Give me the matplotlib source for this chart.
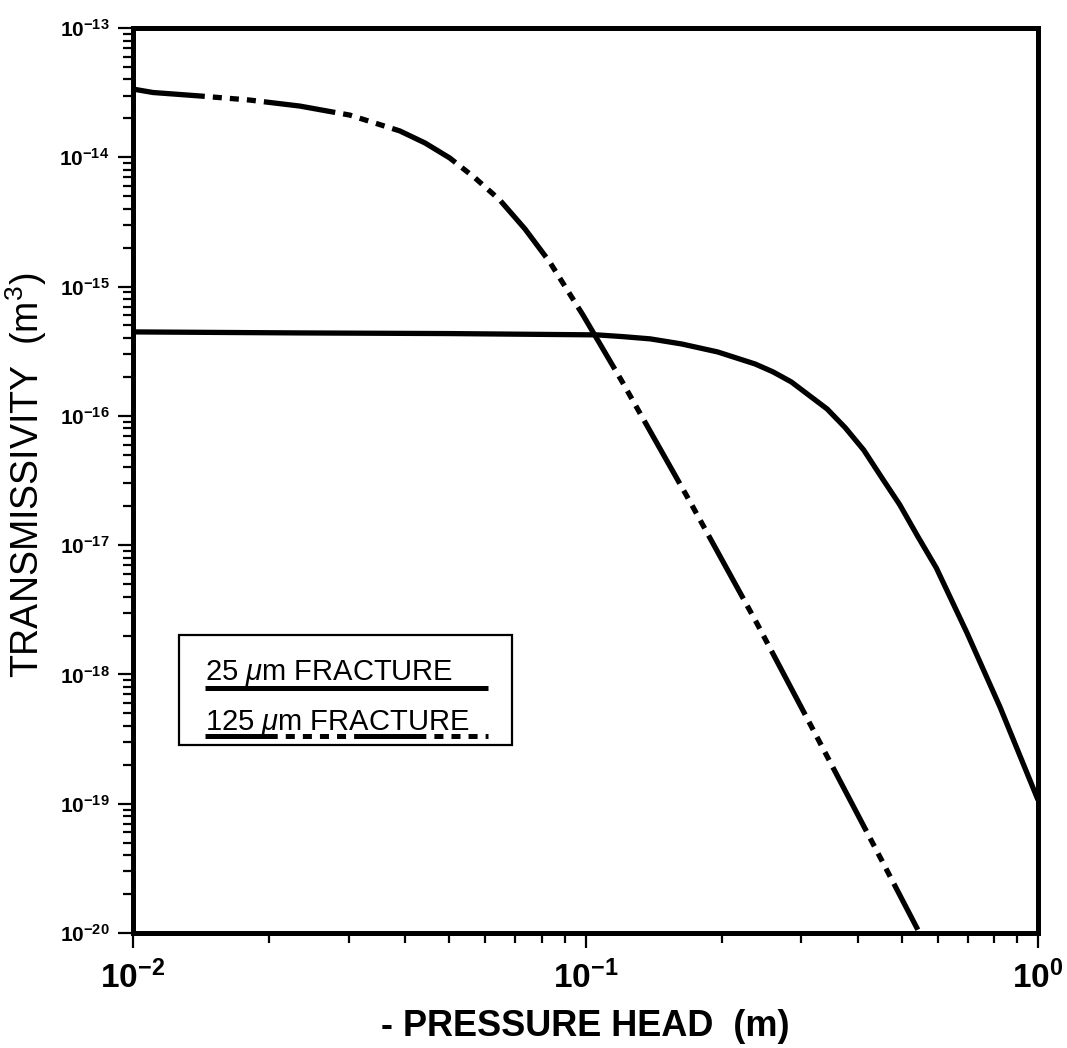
import matplotlib
matplotlib.use('Agg')
import numpy as np
import matplotlib.pyplot as plt
from matplotlib.ticker import LogLocator, FuncFormatter, NullFormatter
from matplotlib.lines import Line2D
from matplotlib.patches import Rectangle

plt.rcParams['font.family'] = ['Liberation Sans', 'DejaVu Sans']
plt.rcParams['mathtext.fontset'] = 'custom'
plt.rcParams['mathtext.rm'] = 'Liberation Sans'
plt.rcParams['mathtext.it'] = 'Liberation Sans:italic'
plt.rcParams['mathtext.bf'] = 'Liberation Sans:bold'
plt.rcParams['lines.scale_dashes'] = False

# values (pressure head in m, transmissivity in m^3)
head_25 = [0.01, 0.0234, 0.05, 0.106, 0.121, 0.139, 0.163, 0.196, 0.237,
           0.2596, 0.285, 0.342, 0.375, 0.412, 0.452, 0.495, 0.543, 0.596,
           0.697, 0.824, 1.0]
trans_25 = [4.46e-16, 4.38e-16, 4.33e-16, 4.23e-16, 4.1e-16, 3.94e-16,
            3.60e-16, 3.12e-16, 2.52e-16, 2.19e-16, 1.83e-16, 1.13e-16,
            8.1e-17, 5.44e-17, 3.31e-17, 2.05e-17, 1.16e-17, 6.67e-18,
            2.09e-18, 5.61e-19, 1.07e-19]

head_125 = [0.01, 0.01107, 0.01406, 0.01813, 0.02337, 0.03014, 0.03886,
            0.0442, 0.05011, 0.0570, 0.06463, 0.0735, 0.08334, 0.0987,
            0.1206, 0.1703, 0.2396, 0.3255, 0.4522, 0.5425]
trans_125 = [3.37e-14, 3.17e-14, 2.98e-14, 2.77e-14, 2.49e-14, 2.12e-14,
             1.60e-14, 1.29e-14, 9.88e-15, 6.92e-15, 4.68e-15, 2.79e-15,
             1.55e-15, 6.03e-16, 1.83e-16, 2.16e-17, 2.46e-18, 3.23e-19,
             3.61e-20, 1.06e-20]

x_ticks = [1e-2, 1e-1, 1e0]
y_ticks = [1e-20, 1e-19, 1e-18, 1e-17, 1e-16, 1e-15, 1e-14, 1e-13]

labels = ['25 $\\mu$m FRACTURE', '125 $\\mu$m FRACTURE']

dash_125 = (52, 5.8, 6.5, 5.8, 6.5, 5.8, 6.5, 5.8)
dash_legend = (52, 5.8, 6.5, 5.8, 6.5, 5.8, 6.5, 5.8, 6.5, 5.8)

fig = plt.figure(figsize=(10.67, 10.48), dpi=100)
ax = fig.add_axes([0.12465, 0.10973, 0.84817, 0.86355])

ax.plot(head_25, trans_25, color='black', lw=3.8, solid_capstyle='butt')
ax.plot(head_125, trans_125, color='black', lw=3.8, dashes=dash_125,
        dash_capstyle='butt')

ax.set_xscale('log')
ax.set_yscale('log')

for s in ax.spines.values():
    s.set_linewidth(3.6)

fmt = FuncFormatter(lambda v, pos: r'$\mathbf{10^{%d}}$' % int(round(np.log10(v))))
ax.set_xticks(x_ticks)
ax.set_yticks(y_ticks)
for axis in (ax.xaxis, ax.yaxis):
    axis.set_minor_locator(LogLocator(base=10, subs=range(2, 10), numticks=20))
    axis.set_major_formatter(fmt)
    axis.set_minor_formatter(NullFormatter())
ax.set_xlim(1e-2, 1)
ax.set_ylim(1e-20, 1e-13)

ax.tick_params(which='major', direction='out', length=11, width=1.6)
ax.tick_params(which='minor', direction='out', length=7, width=1.6)
ax.tick_params(axis='x', labelsize=24, pad=9)
ax.tick_params(axis='y', labelsize=15, pad=6)

ax.set_xlabel('- PRESSURE HEAD  (m)', fontsize=26, fontweight='bold')
ax.xaxis.set_label_coords(0.5, -0.084)
ax.set_ylabel('TRANSMISSIVITY  (m$^{3}$)', fontsize=27)
ax.yaxis.set_label_coords(-0.093, 0.506)

# legend box drawn by hand: line samples sit under the text
ax.add_patch(Rectangle((0.0508, 0.2077), 0.368, 0.1213, transform=ax.transAxes,
                       fill=False, lw=1.6, color='black'))
ax.text(0.0796, 0.2796, labels[0], transform=ax.transAxes, fontsize=21,
        va='baseline', ha='left')
ax.text(0.0796, 0.2243, labels[1], transform=ax.transAxes, fontsize=21,
        va='baseline', ha='left')
ax.add_line(Line2D([0.0796, 0.392], [0.2707, 0.2707], transform=ax.transAxes,
                   color='black', lw=3.6, solid_capstyle='butt'))
ax.add_line(Line2D([0.0796, 0.392], [0.2177, 0.2177], transform=ax.transAxes,
                   color='black', lw=3.6, dashes=dash_legend, dash_capstyle='butt'))

fig.savefig('out.png', dpi=100)
